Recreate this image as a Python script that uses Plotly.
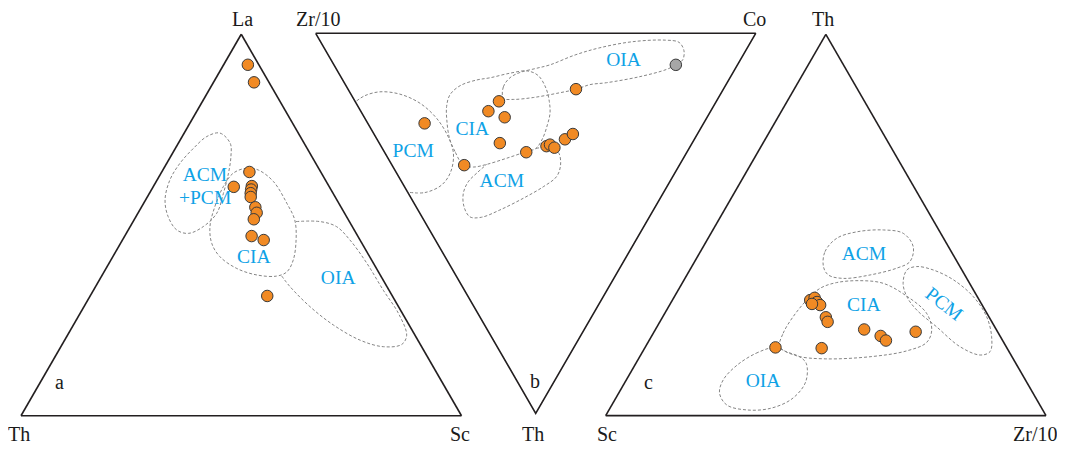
import plotly.graph_objects as go

# the page body has an 8 px margin, so the figure is drawn 8 px in from the corner
OFF = 8
W, H = 1065 - OFF, 449 - OFF
FONT = "Liberation Serif"
BLUE = "#0FA2E6"
ORANGE = "#F18A24"
GRAY = "#A6A6A6"
EDGE = "#3A3A3A"
DASHC = "#858585"
LINEC = "#231F20"

# ---------------- Panel a : La - Th - Sc (percent) ----------------
a_La = [92.0, 87.4, 63.9, 60.0, 60.2, 59.3, 58.4, 57.4, 54.7, 53.2, 51.5, 47.1, 46.1, 31.4]
a_Th = [2.5, 3.4, 16.2, 21.7, 17.5, 18.1, 18.7, 19.2, 19.5, 19.9, 21.4, 24.1, 21.9, 28.4]
a_Sc = [5.5, 9.2, 19.9, 18.3, 22.3, 22.6, 23.0, 23.5, 25.9, 26.9, 27.1, 28.8, 32.1, 40.2]

# field outlines (La, Th, Sc)
a_acm_pcm = [(74.1, 17.8, 8.1), (71.4, 16.8, 11.8), (67.9, 18.4, 13.7), (63.6, 21.1, 15.3),
             (58.3, 24.9, 16.8), (53.1, 29.0, 17.9), (49.6, 33.8, 16.6), (47.8, 38.1, 14.1),
             (48.7, 40.3, 11.0), (52.2, 40.5, 7.3), (56.6, 39.0, 4.4), (61.8, 35.3, 2.9),
             (66.2, 30.8, 3.0), (70.1, 25.8, 4.1), (73.2, 21.2, 5.6), (74.1, 17.8, 8.1)]
a_cia = [(63.6, 20.0, 16.4), (64.9, 16.3, 18.8), (64.4, 13.9, 21.7), (61.4, 12.0, 26.6),
         (55.7, 11.8, 32.5), (51.3, 12.2, 36.5), (46.1, 14.5, 39.4), (40.8, 17.8, 41.4),
         (37.7, 20.8, 41.5), (36.6, 23.7, 39.7), (36.9, 28.0, 35.1), (38.6, 31.7, 29.7),
         (41.7, 34.0, 24.3), (45.2, 34.1, 20.7), (49.6, 32.3, 18.1), (54.8, 28.6, 16.6),
         (60.1, 24.0, 15.9), (63.6, 20.0, 16.4)]
a_oia = [(50.9, 12.1, 37.0), (50.9, 6.7, 42.4), (49.6, 3.6, 46.8), (46.1, 2.3, 51.6),
         (40.0, 1.5, 58.5), (32.9, 1.3, 65.8), (26.8, 0.9, 72.3), (21.1, 1.9, 77.0),
         (18.7, 4.2, 77.1), (18.1, 8.7, 73.2), (19.8, 13.1, 67.1), (23.8, 17.2, 59.0),
         (28.6, 20.1, 51.3), (33.8, 22.0, 44.2), (36.6, 22.5, 40.9)]
a_labels = ["ACM", "+PCM", "CIA", "OIA"]
a_label_pos = [(62.9, 26.8, 10.3), (56.8, 29.8, 13.4), (41.3, 26.5, 32.2), (35.8, 10.1, 54.1)]

# ---------------- Panel b : Zr/10 - Co - Th (percent) ----------------
b_Zr = [63.4, 48.9, 49.4, 50.5, 46.0, 43.7, 36.5, 32.7, 32.1, 30.7, 29.4, 28.3, 33.5]
b_Co = [12.9, 16.4, 32.7, 29.0, 31.9, 27.4, 32.2, 37.6, 38.6, 39.2, 42.7, 45.2, 51.8]
b_Th = [23.7, 34.7, 17.9, 20.5, 22.1, 28.9, 31.3, 29.7, 29.3, 30.1, 27.9, 26.5, 14.7]
b_gray = (14.0, 77.7, 8.3)

b_pcm = [(81.8, 0.4, 17.8), (80.6, 3.0, 16.4), (77.7, 6.9, 15.4), (72.9, 11.1, 16.0),
         (67.1, 14.5, 18.4), (61.3, 16.3, 22.4), (56.3, 16.5, 27.2), (52.9, 15.5, 31.6),
         (51.1, 12.5, 36.4), (51.4, 8.7, 39.9), (54.2, 3.9, 41.9), (58.2, 0.0, 41.8)]
b_cia = [(49.1, 16.2, 34.7), (52.8, 16.1, 31.1), (55.8, 16.6, 27.6), (58.8, 18.4, 22.8),
         (60.6, 20.1, 19.3), (61.4, 22.4, 16.2), (60.3, 25.9, 13.8), (57.3, 30.4, 12.3),
         (54.5, 33.8, 11.7), (50.6, 38.9, 10.5), (47.0, 43.1, 9.9), (43.9, 45.0, 11.1),
         (40.4, 45.1, 14.5), (37.9, 44.1, 18.0), (36.2, 42.7, 21.1), (35.3, 40.6, 24.1),
         (34.6, 37.8, 27.6), (34.8, 34.9, 30.3), (36.5, 32.4, 31.1), (40.2, 26.9, 32.9),
         (43.9, 21.6, 34.5), (46.6, 18.2, 35.2), (49.1, 16.2, 34.7)]
b_acm = [(34.8, 34.9, 30.3), (31.0, 39.0, 30.0), (28.9, 39.5, 31.6), (27.0, 38.3, 34.7),
         (26.4, 35.9, 37.7), (28.1, 31.5, 40.4), (31.1, 25.5, 43.4), (34.9, 18.6, 46.5),
         (38.1, 13.5, 48.4), (40.8, 10.9, 48.3), (43.5, 10.9, 45.6), (45.4, 12.5, 42.1),
         (45.8, 15.1, 39.1), (45.0, 18.2, 36.8), (43.9, 21.6, 34.5)]
b_oia = [(48.8, 34.1, 17.1), (50.3, 35.6, 14.1), (50.0, 38.3, 11.7), (48.4, 41.3, 10.3),
         (45.5, 45.2, 9.3), (42.6, 49.1, 8.3), (38.2, 56.1, 5.7), (33.5, 62.7, 3.8),
         (26.8, 71.0, 2.2), (19.7, 78.5, 1.8), (16.2, 81.4, 2.4), (14.0, 81.4, 4.6),
         (13.1, 79.9, 7.0), (14.0, 77.7, 8.3), (15.5, 75.0, 9.5), (20.6, 68.0, 11.4),
         (27.4, 59.6, 13.0), (30.9, 55.6, 13.5), (33.4, 51.9, 14.7), (37.3, 46.9, 15.8),
         (42.1, 41.0, 16.9), (46.4, 36.2, 17.4), (48.8, 34.1, 17.1)]
b_labels = ["PCM", "CIA", "ACM", "OIA"]
b_label_pos = [(62.2, 6.5, 31.3), (51.7, 22.9, 25.4), (38.1, 22.7, 39.2), (26.4, 66.3, 7.3)]
b_apices = [(100, 0, 0), (0, 100, 0), (0, 0, 100), (100, 0, 0)]

# ---------------- Panel c : Th - Sc - Zr/10 (percent) ----------------
c_Th = [30.3, 30.9, 29.8, 29.0, 29.3, 25.8, 24.6, 22.6, 20.9, 19.7, 22.0, 17.7, 17.9]
c_Sc = [38.4, 37.1, 37.1, 36.8, 38.5, 37.1, 37.3, 30.0, 27.1, 26.5, 18.6, 42.1, 52.5]
c_Zr = [31.3, 32.0, 33.1, 34.2, 32.2, 37.1, 38.1, 47.4, 52.0, 53.8, 59.4, 40.2, 29.6]

c_acm = [(39.1, 31.0, 29.9), (43.0, 28.7, 28.3), (46.5, 24.3, 29.2), (48.2, 18.9, 32.9),
         (48.7, 12.6, 38.7), (47.8, 8.5, 43.7), (44.3, 8.0, 47.7), (40.4, 10.7, 48.9),
         (38.7, 14.5, 46.8), (36.9, 21.5, 41.6), (36.0, 28.0, 36.0), (36.9, 31.0, 32.1),
         (39.1, 31.0, 29.9)]
c_pcm = [(34.7, 15.1, 50.2), (38.2, 12.5, 49.3), (39.1, 9.8, 51.1), (38.2, 6.5, 55.3),
         (35.6, 3.2, 61.2), (31.2, 0.9, 67.9), (26.0, 0.5, 73.5), (20.7, 2.0, 77.3),
         (16.8, 4.3, 78.9), (15.9, 7.0, 77.1), (18.1, 10.5, 71.4), (23.3, 13.2, 63.5),
         (27.7, 15.5, 56.8), (31.2, 16.0, 52.8), (34.7, 15.1, 50.2)]
c_cia = [(18.1, 51.4, 30.5), (21.6, 48.9, 29.5), (26.0, 44.4, 29.6), (30.3, 39.2, 30.5),
         (33.4, 34.6, 32.0), (34.9, 30.1, 35.0), (35.4, 24.5, 40.1), (34.7, 19.6, 45.7),
         (31.4, 16.0, 52.6), (26.9, 13.7, 59.4), (22.5, 14.7, 62.8), (19.2, 17.5, 63.3),
         (17.0, 23.1, 59.9), (15.5, 31.8, 52.7), (14.9, 42.7, 42.4), (15.7, 48.8, 35.5),
         (18.1, 51.4, 30.5)]
c_oia = [(17.9, 52.5, 29.6), (16.6, 57.1, 26.3), (13.4, 63.3, 23.3), (9.4, 68.6, 22.0),
         (5.9, 71.2, 22.9), (2.8, 71.1, 26.1), (1.5, 67.2, 31.3), (1.9, 61.7, 36.4),
         (4.4, 55.5, 40.1), (8.8, 50.2, 41.0), (13.7, 47.6, 38.7), (15.5, 48.3, 36.2),
         (16.7, 50.5, 32.8), (17.9, 52.5, 29.6)]
c_labels = ["ACM", "CIA", "OIA"]
c_label_pos = [(42.1, 20.3, 37.6), (28.8, 27.0, 44.2), (8.9, 59.8, 31.3)]


def col(rows, i):
    return [r[i] for r in rows]


def b_xy(rows):
    xs, ys = [], []
    for zr, co, th in rows:
        s = zr + co + th
        xs.append(co / s + th / (2 * s))
        ys.append(th / s)
    return xs, ys


dash_line = dict(color=DASHC, width=1, dash="3px,2px", shape="spline", smoothing=1.0)
marker_o = dict(size=11.5, color=ORANGE, line=dict(color=EDGE, width=1))
marker_g = dict(size=11.5, color=GRAY, line=dict(color=EDGE, width=1))
lab_font = dict(family=FONT, size=19.5, color=BLUE)

fig = go.Figure()

# ---- panel a
for fld in (a_acm_pcm, a_cia, a_oia):
    fig.add_trace(go.Scatterternary(subplot="ternary", a=col(fld, 0), b=col(fld, 1), c=col(fld, 2),
                                    mode="lines", line=dash_line, hoverinfo="skip"))
fig.add_trace(go.Scatterternary(subplot="ternary", a=a_La, b=a_Th, c=a_Sc, mode="markers",
                                marker=marker_o))
fig.add_trace(go.Scatterternary(subplot="ternary", a=col(a_label_pos, 0), b=col(a_label_pos, 1),
                                c=col(a_label_pos, 2), mode="text", text=a_labels,
                                textfont=lab_font, hoverinfo="skip"))

# ---- panel b (inverted triangle on cartesian axes)
bx, by = b_xy(b_apices)
fig.add_trace(go.Scatter(x=bx, y=by, mode="lines", line=dict(color=LINEC, width=1.6),
                         hoverinfo="skip"))
for fld in (b_pcm, b_cia, b_acm, b_oia):
    fx, fy = b_xy(fld)
    fig.add_trace(go.Scatter(x=fx, y=fy, mode="lines", line=dash_line, hoverinfo="skip"))
px_, py_ = b_xy(list(zip(b_Zr, b_Co, b_Th)))
fig.add_trace(go.Scatter(x=px_, y=py_, mode="markers", marker=marker_o))
gx, gy = b_xy([b_gray])
fig.add_trace(go.Scatter(x=gx, y=gy, mode="markers", marker=marker_g))
lx, ly = b_xy(b_label_pos)
fig.add_trace(go.Scatter(x=lx, y=ly, mode="text", text=b_labels, textfont=lab_font,
                         hoverinfo="skip"))

# ---- panel c
for fld in (c_acm, c_pcm, c_cia, c_oia):
    fig.add_trace(go.Scatterternary(subplot="ternary2", a=col(fld, 0), b=col(fld, 1), c=col(fld, 2),
                                    mode="lines", line=dash_line, hoverinfo="skip"))
fig.add_trace(go.Scatterternary(subplot="ternary2", a=c_Th, b=c_Sc, c=c_Zr, mode="markers",
                                marker=marker_o))
fig.add_trace(go.Scatterternary(subplot="ternary2", a=col(c_label_pos, 0), b=col(c_label_pos, 1),
                                c=col(c_label_pos, 2), mode="text", text=c_labels,
                                textfont=lab_font, hoverinfo="skip"))

tern_axis = dict(showgrid=False, showticklabels=False, ticks="", showline=True,
                 linecolor=LINEC, linewidth=1.6, title=dict(text=""))


def px2x(p):
    return (p - OFF) / W


def px2y(p):
    return 1 - (p - OFF) / H


tern_common = dict(bgcolor="rgba(0,0,0,0)", sum=100,
                   aaxis=tern_axis, baxis=tern_axis, caxis=tern_axis)

# annotations (vertex names, panel letters, rotated label)
ann = []
vert = [("La", 242, 18.5), ("Th", 19, 434), ("Sc", 460, 434),
        ("Zr/10", 318, 18.5), ("Co", 754, 18.5), ("Th", 533, 434),
        ("Th", 823, 18.5), ("Sc", 607, 434), ("Zr/10", 1035, 434),
        ("a", 59, 382), ("b", 535, 381), ("c", 648, 382)]
for t, xp, yp in vert:
    ann.append(dict(text=t, x=px2x(xp), y=px2y(yp), xref="paper", yref="paper",
                    xanchor="center", yanchor="middle", showarrow=False,
                    font=dict(family=FONT, size=20, color="#1a1a1a")))
ann.append(dict(text="PCM", x=px2x(944), y=px2y(303), xref="paper", yref="paper",
                xanchor="center", yanchor="middle", showarrow=False, textangle=38,
                font=lab_font))

fig.update_layout(
    width=W, height=H, margin=dict(l=0, r=0, t=0, b=0),
    paper_bgcolor="white", plot_bgcolor="rgba(0,0,0,0)",
    showlegend=False, template="none",
    ternary=dict(domain=dict(x=[px2x(21), px2x(461.5)], y=[px2y(417), px2y(33)]), **tern_common),
    ternary2=dict(domain=dict(x=[px2x(605.7), px2x(1046)], y=[px2y(417), px2y(33)]), **tern_common),
    xaxis=dict(range=[-0.05, 1.05], domain=[px2x(293.7), px2x(777.7)], visible=False,
               fixedrange=True),
    yaxis=dict(range=[1.05, -0.05], domain=[px2y(432.3), px2y(14.3)], visible=False,
               fixedrange=True),
    annotations=ann,
)

fig.write_html("out.html")
